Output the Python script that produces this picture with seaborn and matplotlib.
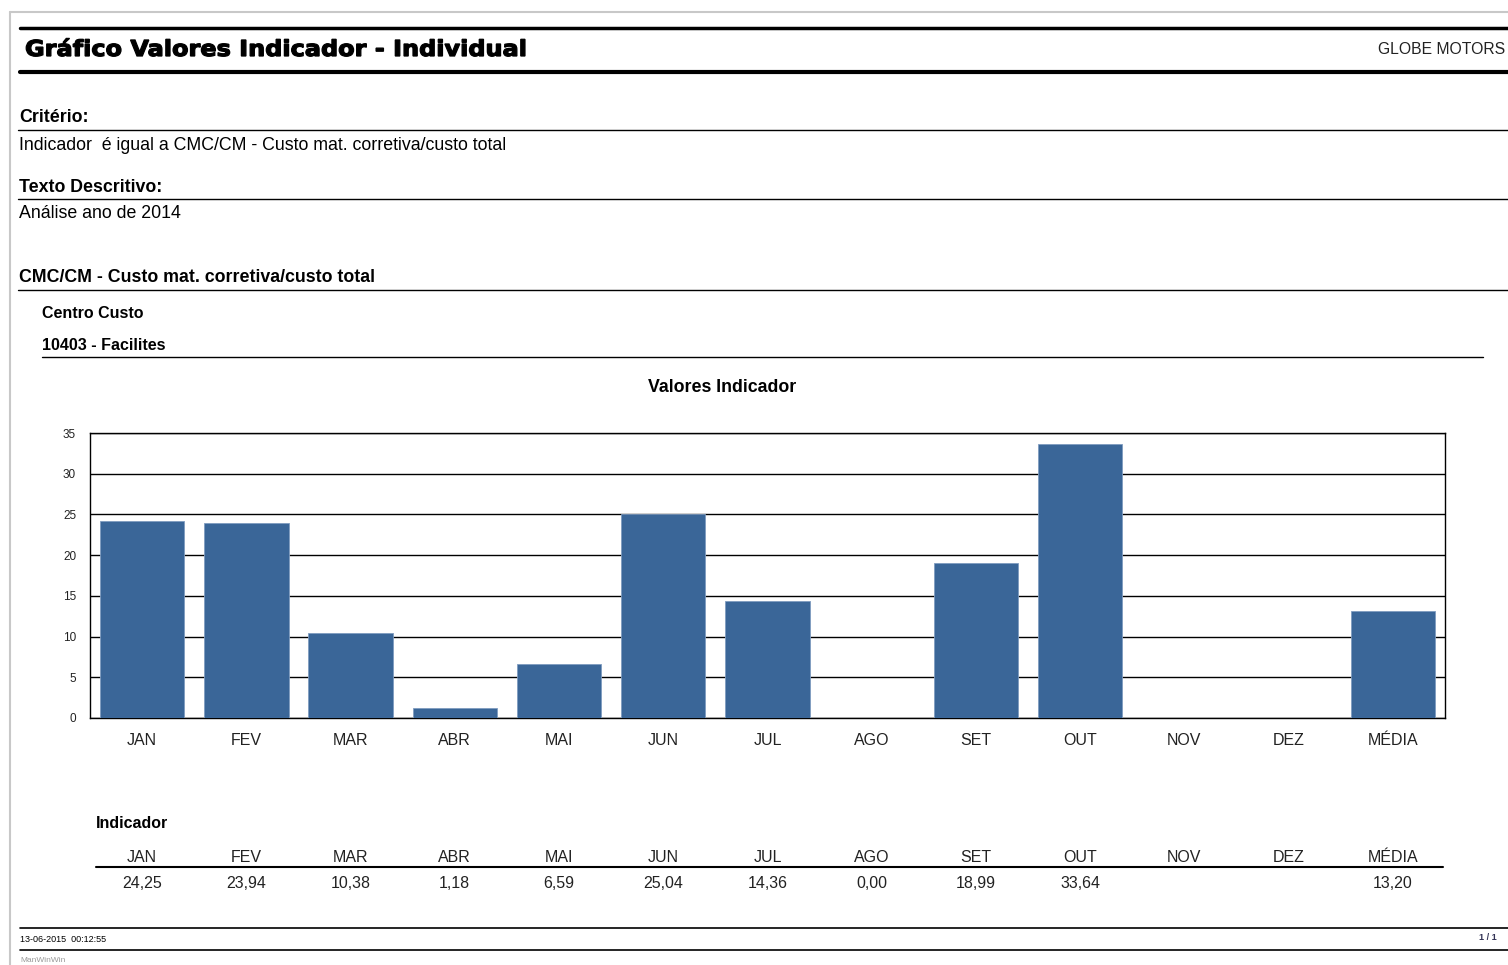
import matplotlib
matplotlib.use("Agg")
import matplotlib.pyplot as plt
from matplotlib.lines import Line2D
from matplotlib.patches import PathPatch
from matplotlib.textpath import TextPath
from matplotlib.font_manager import FontProperties
import matplotlib.transforms as mtransforms
import numpy as np
import pandas as pd
import seaborn as sns

# ---- data -------------------------------------------------------------
months = ["JAN", "FEV", "MAR", "ABR", "MAI", "JUN", "JUL", "AGO",
          "SET", "OUT", "NOV", "DEZ", "MÉDIA"]
indicator_values = [24.25, 23.94, 10.38, 1.18, 6.59, 25.04, 14.36, 0.00,
                    18.99, 33.64, None, None, 13.20]
y_ticks = [0, 5, 10, 15, 20, 25, 30, 35]

report_title = "Gráfico Valores Indicador - Individual"
company = "GLOBE MOTORS"
criterion_label = "Critério:"
criterion_text = "Indicador  é igual a CMC/CM - Custo mat. corretiva/custo total"
description_label = "Texto Descritivo:"
description_text = "Análise ano de 2014"
indicator_name = "CMC/CM - Custo mat. corretiva/custo total"
group_label = "Centro Custo"
group_value = "10403 - Facilites"
chart_title = "Valores Indicador"
table_label = "Indicador"
printed_at = "13-06-2015  00:12:55"
page_info = "1 / 1"
software = "ManWinWin"

BAR_COLOR = "#3A6698"

# ---- figure -----------------------------------------------------------
sns.set_theme(style="white")
plt.rcParams["font.family"] = ["Liberation Sans", "DejaVu Sans"]

W, H = 1508, 965
fig = plt.figure(figsize=(W / 100, H / 100), dpi=100)
fig.patch.set_facecolor("white")

# pixel coordinates (origin top-left) -> figure fraction
pix = mtransforms.Affine2D().scale(1 / W, -1 / H).translate(0, 1) + fig.transFigure


def px(x, y):
    return x / W, 1 - y / H


def text(x, y, s, size, weight="normal", ha="left", color="black", **kw):
    fx, fy = px(x, y)
    fig.text(fx, fy, s, fontsize=size, fontweight=weight, ha=ha,
             va="center", color=color, **kw)


def hline(y, x0, x1, lw=1.0, color="black"):
    a, b = px(x0, y)
    c, _ = px(x1, y)
    fig.add_artist(Line2D([a, c], [b, b], lw=lw, color=color,
                          transform=fig.transFigure))


def vline(x, y0, y1, lw=1.0, color="black"):
    a, b = px(x, y0)
    _, d = px(x, y1)
    fig.add_artist(Line2D([a, a], [b, d], lw=lw, color=color,
                          transform=fig.transFigure))


# page frame
vline(10, 12, H, lw=1.5, color="#c8c8c8")
hline(12, 10, W, lw=1.5, color="#c8c8c8")

# header: wide heavy title drawn as a stretched text path
hline(28, 20, W, lw=2.5)
hline(72, 20, W, lw=3.0)
tp = TextPath((0, 0), report_title, size=22,
              prop=FontProperties(family="DejaVu Sans", weight="bold"))
title_tf = mtransforms.Affine2D().scale(1.09, -1.0).translate(25, 56) + pix
fig.add_artist(PathPatch(tp, transform=title_tf, facecolor="black",
                         edgecolor="black", linewidth=0.9))
text(1505, 49, company, 11.3, ha="right", color="#222222")

# criteria blocks
text(19, 118, criterion_label, 12.8, weight="bold")
hline(130, 18, W, lw=1.0)
text(19, 146, criterion_text, 12.8)
text(19, 188, description_label, 12.8, weight="bold")
hline(199, 18, W, lw=1.0)
text(19, 214, description_text, 12.8)
text(19, 278, indicator_name, 12.8, weight="bold")
hline(290, 18, W, lw=1.0)
text(42, 313, group_label, 11.5, weight="bold")
text(42, 346, group_value, 11.5, weight="bold")
hline(357, 42, 1483, lw=1.0)

text(722, 387, chart_title, 12.8, weight="bold", ha="center")

# ---- bar chart --------------------------------------------------------
ax_left, ax_top, ax_right, ax_bottom = 90, 433, 1445, 718
ax = fig.add_axes([ax_left / W, 1 - ax_bottom / H,
                   (ax_right - ax_left) / W, (ax_bottom - ax_top) / H])

df = pd.DataFrame({"mes": months,
                   "valor": [np.nan if v is None else v for v in indicator_values]})
sns.barplot(data=df, x="mes", y="valor", order=months, color=BAR_COLOR,
            saturation=1, errorbar=None, width=0.81, edgecolor="#7f9cc0",
            linewidth=0.6, ax=ax, zorder=3)

ax.set_xlim(-0.5, len(months) - 0.5)
ax.set_ylim(y_ticks[0], y_ticks[-1])
ax.set_yticks(y_ticks)
ax.set_yticklabels([str(t) for t in y_ticks])
ax.set_xlabel("")
ax.set_ylabel("")
ax.yaxis.grid(True, color="black", lw=1.0, zorder=0)
ax.xaxis.grid(False)
ax.set_axisbelow(True)
for s in ax.spines.values():
    s.set_visible(True)
    s.set_color("black")
    s.set_linewidth(1.0)
ax.tick_params(axis="y", length=0, pad=10, labelsize=8.5, labelcolor="#222222")
ax.tick_params(axis="x", length=0, pad=11, labelsize=11.5, labelcolor="#222222")

# ---- values table -----------------------------------------------------
text(96, 823, table_label, 11.5, weight="bold")
hline(867, 96, 1443, lw=1.5)
trans = mtransforms.blended_transform_factory(ax.transData, fig.transFigure)
_, y_head = px(0, 857)
_, y_val = px(0, 884)
for i, (m, v) in enumerate(zip(months, indicator_values)):
    fig.text(i, y_head, m, transform=trans, ha="center", va="center",
             fontsize=11.5, color="#222222")
    if v is not None:
        label = f"{v:.2f}".replace(".", ",")
        fig.text(i, y_val, label, transform=trans, ha="center", va="center",
                 fontsize=11.5, color="#222222")

# ---- footer -----------------------------------------------------------
hline(928, 20, W, lw=1.2)
text(20, 939, printed_at, 6.5)
text(1497, 938, page_info, 6.5, ha="right", weight="bold", color="#333355")
hline(950, 20, W, lw=1.2)
text(20, 961, software, 6, color="#9a9a9a")

fig.savefig("out.png", dpi=100, facecolor="white")
